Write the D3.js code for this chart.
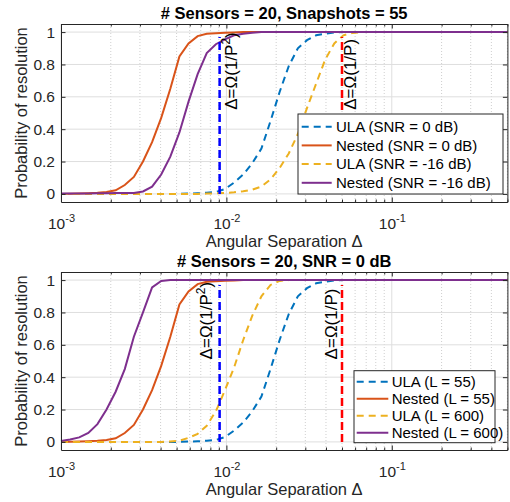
<!DOCTYPE html>
<html>
<head>
<meta charset="utf-8">
<script src="https://cdn.jsdelivr.net/npm/d3@7"></script>
<style>
  body { margin: 0; background: #fff; }
  text { font-family: "Liberation Sans", Arial, sans-serif; }
</style>
</head>
<body>
<script>

// angular separation grid (same for every curve)
var sep = [0.001, 0.001135, 0.001289, 0.001463, 0.001661, 0.001885, 0.00214, 0.00243, 0.002758, 0.003131,
           0.003554, 0.004035, 0.004581, 0.0052, 0.005903, 0.006701, 0.007607, 0.008636, 0.009804, 0.01113,
           0.01264, 0.01434, 0.01628, 0.01848, 0.02098, 0.02382, 0.02704, 0.0307, 0.03485, 0.03956,
           0.04491, 0.05098, 0.05788, 0.0657, 0.07459, 0.08467, 0.09612, 0.1091, 0.1239, 0.1406,
           0.1596, 0.1812, 0.2057, 0.2335, 0.2651, 0.301, 0.3417, 0.3879, 0.4403, 0.5];

// ULA, SNR = 0 dB, L = 55  (same run in both panels)
var ulaBase = [0, 0, 0, 0, 0, 0, 0, 0, 0, 0,
               0, 0, 0, 0, 0.002, 0.004, 0.007, 0.012, 0.03, 0.07,
               0.12, 0.19, 0.28, 0.45, 0.63, 0.79, 0.9, 0.95, 0.98, 0.99,
               0.997, 1, 1, 1, 1, 1, 1, 1, 1, 1,
               1, 1, 1, 1, 1, 1, 1, 1, 1, 1];

// Nested, SNR = 0 dB, L = 55
var nestedBase = [0, 0.001, 0.002, 0.004, 0.007, 0.012, 0.022, 0.055, 0.105, 0.2,
                  0.32, 0.47, 0.65, 0.85, 0.93, 0.975, 0.99, 0.993, 0.996, 0.998,
                  1, 1, 1, 1, 1, 1, 1, 1, 1, 1,
                  1, 1, 1, 1, 1, 1, 1, 1, 1, 1,
                  1, 1, 1, 1, 1, 1, 1, 1, 1, 1];

// ULA, SNR = -16 dB
var ulaLowSnr = [0, 0, 0, 0, 0, 0, 0, 0, 0, 0,
                 0, 0, 0, 0, 0, 0, 0.002, 0.004, 0.006, 0.01,
                 0.016, 0.026, 0.045, 0.09, 0.16, 0.25, 0.37, 0.53, 0.68, 0.83,
                 0.93, 0.98, 0.995, 1, 1, 1, 1, 1, 1, 1,
                 1, 1, 1, 1, 1, 1, 1, 1, 1, 1];

// Nested, SNR = -16 dB
var nestedLowSnr = [0.002, 0.002, 0.003, 0.003, 0.004, 0.004, 0.005, 0.006, 0.006, 0.015,
                    0.045, 0.12, 0.23, 0.38, 0.57, 0.74, 0.87, 0.925, 0.955, 0.98,
                    0.99, 0.996, 1, 1, 1, 1, 1, 1, 1, 1,
                    1, 1, 1, 1, 1, 1, 1, 1, 1, 1,
                    1, 1, 1, 1, 1, 1, 1, 1, 1, 1];

// ULA, L = 600
var ulaLong = [0, 0, 0, 0, 0, 0, 0, 0, 0, 0,
               0, 0, 0.003, 0.008, 0.025, 0.05, 0.1, 0.19, 0.32, 0.46,
               0.63, 0.78, 0.9, 0.97, 0.995, 1, 1, 1, 1, 1,
               1, 1, 1, 1, 1, 1, 1, 1, 1, 1,
               1, 1, 1, 1, 1, 1, 1, 1, 1, 1];

// Nested, L = 600
var nestedLong = [0.005, 0.015, 0.028, 0.055, 0.11, 0.2, 0.31, 0.45, 0.65, 0.8,
                  0.955, 0.995, 1, 1, 1, 1, 1, 1, 1, 1,
                  1, 1, 1, 1, 1, 1, 1, 1, 1, 1,
                  1, 1, 1, 1, 1, 1, 1, 1, 1, 1,
                  1, 1, 1, 1, 1, 1, 1, 1, 1, 1];

var boundP2 = 0.0091;   // Δ = Ω(1/P^2)
var boundP = 0.05;      // Δ = Ω(1/P)

var xMajor = [0.001, 0.01, 0.1];
var xTickBase = ["10", "10", "10"];
var xTickExp = ["-3", "-2", "-1"];
var yMajor = [0, 0.2, 0.4, 0.6, 0.8, 1];
var yTickLabels = ["0", "0.2", "0.4", "0.6", "0.8", "1"];

var titles = ["# Sensors = 20, Snapshots = 55", "# Sensors = 20, SNR = 0 dB"];
var namesTop = ["ULA (SNR = 0 dB)", "Nested (SNR = 0 dB)", "ULA (SNR = -16 dB)", "Nested (SNR = -16 dB)"];
var namesBottom = ["ULA (L = 55)", "Nested (L = 55)", "ULA (L = 600)", "Nested (L = 600)"];

var colors = ["#0072BD", "#D95319", "#EDB120", "#7E2F8E"];
var dashed = [true, false, true, false];

var width = 510, height = 502;
var axColor = "#262626";

var svg = d3.select("body").append("svg")
    .attr("width", width)
    .attr("height", height);

svg.append("rect").attr("width", width).attr("height", height).attr("fill", "white");

var x = d3.scaleLog().domain([0.001, 0.5]).range([61, 507.4]);

// minor log ticks 2..9 per decade
var xMinor = [];
[0.001, 0.01, 0.1].forEach(function(d){
  for (var m = 2; m <= 9; m++) if (m * d <= 0.5) xMinor.push(m * d);
});

function drawPanel(top, title, series, names, leg, marks) {
  var bottom = top + 178;
  var y = d3.scaleLinear().domain([-0.05, 1.05]).range([bottom, top]);
  var g = svg.append("g");
  var xl = x.range()[0], xr = x.range()[1];

  // grid
  g.selectAll(".gminor").data(xMinor).enter().append("line")
    .attr("x1", function(d){ return x(d); }).attr("x2", function(d){ return x(d); })
    .attr("y1", top).attr("y2", bottom)
    .attr("stroke", "#cfcfcf").attr("stroke-width", 1).attr("stroke-dasharray", "1,2");
  g.selectAll(".gx").data(xMajor).enter().append("line")
    .attr("x1", function(d){ return x(d); }).attr("x2", function(d){ return x(d); })
    .attr("y1", top).attr("y2", bottom)
    .attr("stroke", "#dedede").attr("stroke-width", 1);
  g.selectAll(".gy").data(yMajor).enter().append("line")
    .attr("x1", xl).attr("x2", xr)
    .attr("y1", function(d){ return y(d); }).attr("y2", function(d){ return y(d); })
    .attr("stroke", "#dedede").attr("stroke-width", 1);

  // curves
  var line = d3.line()
    .x(function(d, i){ return x(sep[i]); })
    .y(function(d){ return y(d); });

  series.forEach(function(s, i){
    g.append("path")
      .attr("d", line(s))
      .attr("fill", "none")
      .attr("stroke", colors[i])
      .attr("stroke-width", 2)
      .attr("stroke-dasharray", dashed[i] ? "7,5" : null);
  });

  // bound markers
  marks.forEach(function(m){
    g.append("line")
      .attr("x1", x(m.at)).attr("x2", x(m.at))
      .attr("y1", y(0)).attr("y2", y(0.97))
      .attr("stroke", m.color).attr("stroke-width", 2.5)
      .attr("stroke-dasharray", "8,4");
    var t = g.append("text")
      .attr("transform", "translate(" + (x(m.at) + m.dx) + "," + y(m.ty) + ") rotate(-90)")
      .attr("font-size", 17)
      .attr("fill", "black");
    t.append("tspan").text("Δ=Ω(1/P");
    if (m.sq) {
      t.append("tspan").attr("font-size", 12).attr("dy", -7).text("2");
      t.append("tspan").attr("dy", 7).text(")");
    } else {
      t.append("tspan").text(")");
    }
  });

  // axes
  var axB = g.append("g").attr("transform", "translate(0," + bottom + ")")
    .style("color", axColor)
    .call(d3.axisBottom(x).tickValues(xMajor).tickSizeInner(-4.5).tickSizeOuter(0).tickPadding(15.5));
  axB.selectAll(".tick text").each(function(d, i){
    var t = d3.select(this).text(null).attr("font-size", 15.5).attr("font-family", null);
    t.append("tspan").text(xTickBase[i]);
    t.append("tspan").attr("font-size", 11).attr("dy", -7).text(xTickExp[i]);
  });
  g.append("g").attr("transform", "translate(0," + bottom + ")")
    .style("color", axColor)
    .call(d3.axisBottom(x).tickValues(xMinor).tickSize(-2.5).tickFormat(""))
    .select(".domain").remove();
  g.append("g").attr("transform", "translate(0," + top + ")")
    .style("color", axColor)
    .call(d3.axisTop(x).tickValues(xMajor).tickSizeInner(-4.5).tickSizeOuter(0).tickFormat(""));
  g.append("g").attr("transform", "translate(0," + top + ")")
    .style("color", axColor)
    .call(d3.axisTop(x).tickValues(xMinor).tickSize(-2.5).tickFormat(""))
    .select(".domain").remove();

  var axL = g.append("g").attr("transform", "translate(" + xl + ",0)")
    .style("color", axColor)
    .call(d3.axisLeft(y).tickValues(yMajor).tickSizeInner(-4.5).tickSizeOuter(0).tickPadding(6)
      .tickFormat(function(d, i){ return yTickLabels[i]; }));
  axL.selectAll(".tick text").attr("font-size", 15.5).attr("font-family", null);
  g.append("g").attr("transform", "translate(" + xr + ",0)")
    .style("color", axColor)
    .call(d3.axisRight(y).tickValues(yMajor).tickSizeInner(-4.5).tickSizeOuter(0).tickFormat(""));

  g.selectAll(".domain").attr("stroke-width", 1);

  // title and labels
  g.append("text")
    .attr("x", (xl + xr) / 2).attr("y", top - 5.5)
    .attr("text-anchor", "middle")
    .attr("font-size", 16.5).attr("font-weight", "bold")
    .attr("fill", "black")
    .text(title);
  g.append("text")
    .attr("x", (xl + xr) / 2).attr("y", bottom + 44.5)
    .attr("text-anchor", "middle")
    .attr("font-size", 16.5)
    .attr("fill", axColor)
    .text("Angular Separation Δ");
  g.append("text")
    .attr("transform", "translate(27," + (top + bottom) / 2 + ") rotate(-90)")
    .attr("text-anchor", "middle")
    .attr("font-size", 16.5)
    .attr("fill", axColor)
    .text("Probability of resolution");

  // legend
  var lg = g.append("g");
  lg.append("rect")
    .attr("x", leg.x).attr("y", leg.y).attr("width", leg.w).attr("height", leg.h)
    .attr("fill", "white").attr("stroke", axColor).attr("stroke-width", 1);
  names.forEach(function(n, i){
    var ry = leg.row0 + i * leg.step;
    lg.append("line")
      .attr("x1", leg.l0).attr("x2", leg.l1).attr("y1", ry).attr("y2", ry)
      .attr("stroke", colors[i]).attr("stroke-width", 2)
      .attr("stroke-dasharray", dashed[i] ? "7,5" : null);
    lg.append("text")
      .attr("x", leg.tx).attr("y", ry).attr("dy", "0.35em")
      .attr("font-size", 15).attr("fill", "black")
      .text(n);
  });
}

drawPanel(24, titles[0], [ulaBase, nestedBase, ulaLowSnr, nestedLowSnr], namesTop,
  {x: 298, y: 114, w: 205, h: 80, row0: 126.7, step: 18.7, l0: 301.7, l1: 331.7, tx: 336},
  [{at: boundP2, dx: 17.5, ty: 0.52, sq: true, color: "#0000FF"},
   {at: boundP, dx: 14, ty: 0.52, sq: false, color: "#FF0000"}]);

drawPanel(272, titles[1], [ulaBase, nestedBase, ulaLong, nestedLong], namesBottom,
  {x: 354, y: 370.7, w: 141, h: 72, row0: 381.7, step: 17, l0: 356.7, l1: 388.3, tx: 391.7},
  [{at: boundP2, dx: -7.5, ty: 0.51, sq: true, color: "#0000FF"},
   {at: boundP, dx: -5, ty: 0.51, sq: false, color: "#FF0000"}]);

</script>
</body>
</html>
